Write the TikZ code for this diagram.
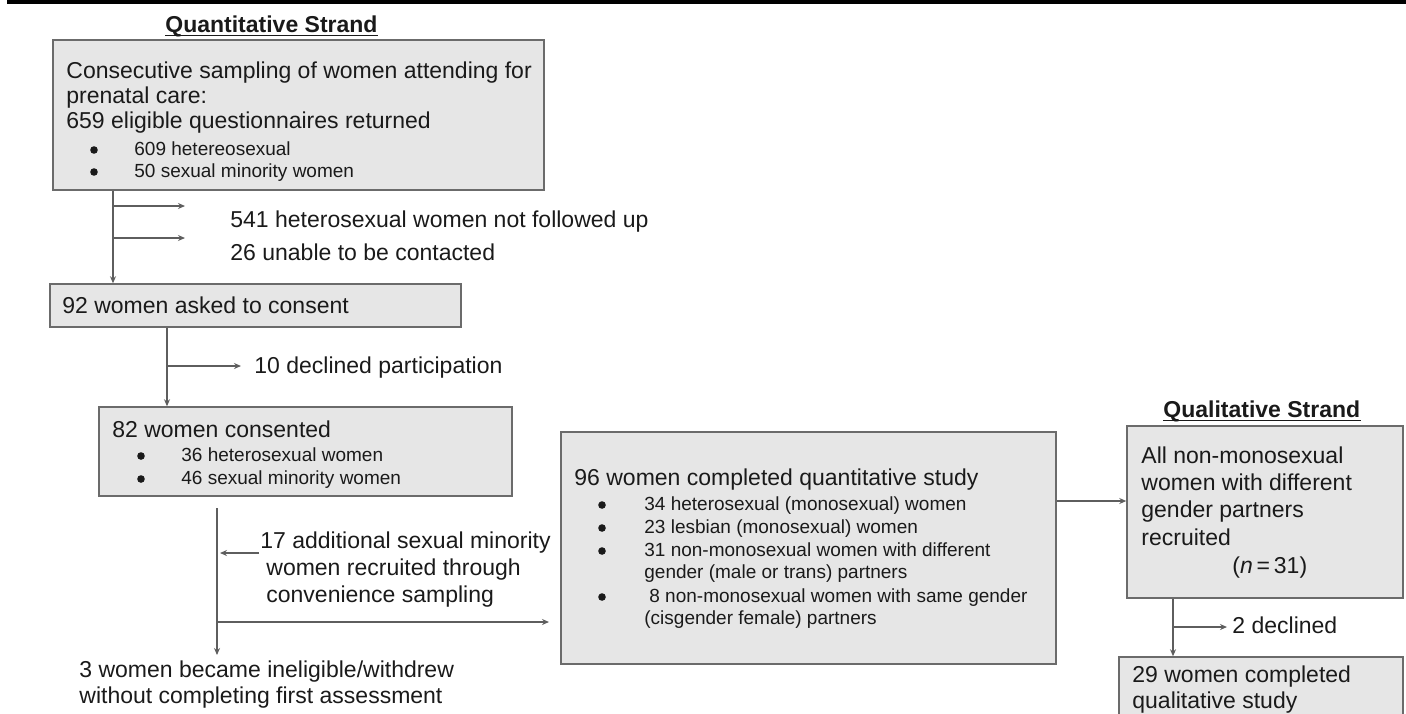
\documentclass[tikz,border=0pt]{standalone}
\usepackage{fontspec}
\setmainfont{Liberation Sans}
\usetikzlibrary{arrows.meta}
\definecolor{boxfill}{HTML}{E6E6E6}
\definecolor{boxline}{HTML}{6B6B6B}
\definecolor{conn}{HTML}{5E5E5E}
\definecolor{ink}{HTML}{1A1A1A}
\tikzset{
  box/.style={draw=boxline, fill=boxfill, line width=0.75pt, inner sep=0pt},
  txt/.style={anchor=base west, inner sep=0pt, text=ink, font=\fontsize{11.5}{13}\selectfont},
  small/.style={anchor=base west, inner sep=0pt, text=ink, font=\fontsize{9.5}{11}\selectfont},
  dot/.style={circle, fill=ink, draw=none, inner sep=0pt, minimum size=3.8pt},
  ttl/.style={anchor=base west, inner sep=0pt, text=ink, font=\bfseries\fontsize{11.5}{13}\selectfont},
  uline/.style={draw=ink, line width=0.9pt},
  arr/.style={draw=conn, line width=0.7pt, -{Stealth[length=3.5pt,width=3pt]}},
}
\begin{document}
\begin{tikzpicture}[x=0.5pt, y=-0.5pt]
\useasboundingbox (0,0) rectangle (1406,713);
\fill[black] (7,0) rectangle (1406,4);

% titles
\node[ttl] (t1) at (165,32) {Quantitative Strand};
\node[ttl] (t2) at (1163,417) {Qualitative Strand};
\draw[uline] ([yshift=-1.7pt]t1.base west) -- ([yshift=-1.7pt]t1.base east);
\draw[uline] ([yshift=-1.7pt]t2.base west) -- ([yshift=-1.7pt]t2.base east);

% boxes
\node[box, minimum width=245.5pt, minimum height=75pt] (b1) at (298.5,115) {};
\node[box, minimum width=205.5pt, minimum height=21.5pt] (b2) at (255.5,305.5) {};
\node[box, minimum width=206.5pt, minimum height=44.5pt] (b3) at (305.5,451.5) {};
\node[box, minimum width=247.5pt, minimum height=116pt] (b4) at (808.5,548) {};
\node[box, minimum width=138pt, minimum height=86pt] (b5) at (1265,512) {};
\node[box, minimum width=142pt, minimum height=51.5pt] (b6) at (1261,708.5) {};

% box 1 text
\node[txt] (b1l1) at (66,78) {Consecutive sampling of women attending for};
\node[txt] (b1l2) at (66,103) {prenatal care:};
\node[txt] (b1l3) at (66,128) {659 eligible questionnaires returned};
\node[dot] (b1d1) at (94,150) {};
\node[small] (b1s1) at (134,155) {609 hetereosexual};
\node[dot] (b1d2) at (94,172) {};
\node[small] (b1s2) at (134,177) {50 sexual minority women};

% box 2 text
\node[txt] (b2l1) at (62,313) {92 women asked to consent};

% box 3 text
\node[txt] (b3l1) at (112,437) {82 women consented};
\node[dot] (b3d1) at (141,456) {};
\node[small] (b3s1) at (181,461) {36 heterosexual women};
\node[dot] (b3d2) at (141,479) {};
\node[small] (b3s2) at (181,484) {46 sexual minority women};

% box 4 text
\node[txt] (b4l1) at (574,485) {96 women completed quantitative study};
\node[dot] (b4d1) at (602,505) {};
\node[small] (b4s1) at (644,510) {34 heterosexual (monosexual) women};
\node[dot] (b4d2) at (602,528) {};
\node[small] (b4s2) at (644,533) {23 lesbian (monosexual) women};
\node[dot] (b4d3) at (602,551) {};
\node[small] (b4s3) at (644,556) {31 non-monosexual women with different};
\node[small] (b4s3b) at (644,578) {gender (male or trans) partners};
\node[dot] (b4d4) at (602,597) {};
\node[small] (b4s4) at (649,602) {8 non-monosexual women with same gender};
\node[small] (b4s4b) at (644,624) {(cisgender female) partners};

% box 5 text
\node[txt] (b5l1) at (1141,463) {All non-monosexual};
\node[txt] (b5l2) at (1141,490) {women with different};
\node[txt] (b5l3) at (1141,517) {gender partners};
\node[txt] (b5l4) at (1141,545) {recruited};
\node[txt] (b5l5) at (1232,573) {(\textit{n}\,=\,31)};

% box 6 text
\node[txt] (b6l1) at (1132,682) {29 women completed};
\node[txt] (b6l2) at (1132,708) {qualitative study};

% side texts
\node[txt] (s1) at (230,227) {541 heterosexual women not followed up};
\node[txt] (s2) at (230,260) {26 unable to be contacted};
\node[txt] (s3) at (254,373) {10 declined participation};
\node[txt] (s4a) at (260,548) {17 additional sexual minority};
\node[txt] (s4b) at (266,575) {women recruited through};
\node[txt] (s4c) at (266,602) {convenience sampling};
\node[txt] (s5a) at (79,677) {3 women became ineligible/withdrew};
\node[txt] (s5b) at (79,703) {without completing first assessment};
\node[txt] (s6) at (1232,633) {2 declined};

% coordinates
\coordinate (x1) at (113,0);
\coordinate (h1a) at (113,206);
\coordinate (h1aE) at (185,206);
\coordinate (h1b) at (113,238);
\coordinate (h1bE) at (185,238);
\coordinate (x2) at (167,0);
\coordinate (h2) at (167,366);
\coordinate (h2E) at (241,366);
\coordinate (v3s) at (217,508);
\coordinate (v3e) at (217,655);
\coordinate (h3s) at (259,553);
\coordinate (h3e) at (220,553);
\coordinate (h4s) at (217,622);
\coordinate (h4e) at (549,622);
\coordinate (y5) at (0,501);
\coordinate (x6) at (1173,0);
\coordinate (h6) at (1173,627);
\coordinate (h6E) at (1227,627);

% connectors
\draw[arr] (b1.south -| x1) -- (b2.north -| x1);
\draw[arr] (h1a) -- (h1aE);
\draw[arr] (h1b) -- (h1bE);
\draw[arr] (b2.south -| x2) -- (b3.north -| x2);
\draw[arr] (h2) -- (h2E);
\draw[arr] (v3s) -- (v3e);
\draw[arr] (h3s) -- (h3e);
\draw[arr] (h4s) -- (h4e);
\draw[arr] (b4.east |- y5) -- (b5.west |- y5);
\draw[arr] (b5.south -| x6) -- (b6.north -| x6);
\draw[arr] (h6) -- (h6E);
\end{tikzpicture}
\end{document}
